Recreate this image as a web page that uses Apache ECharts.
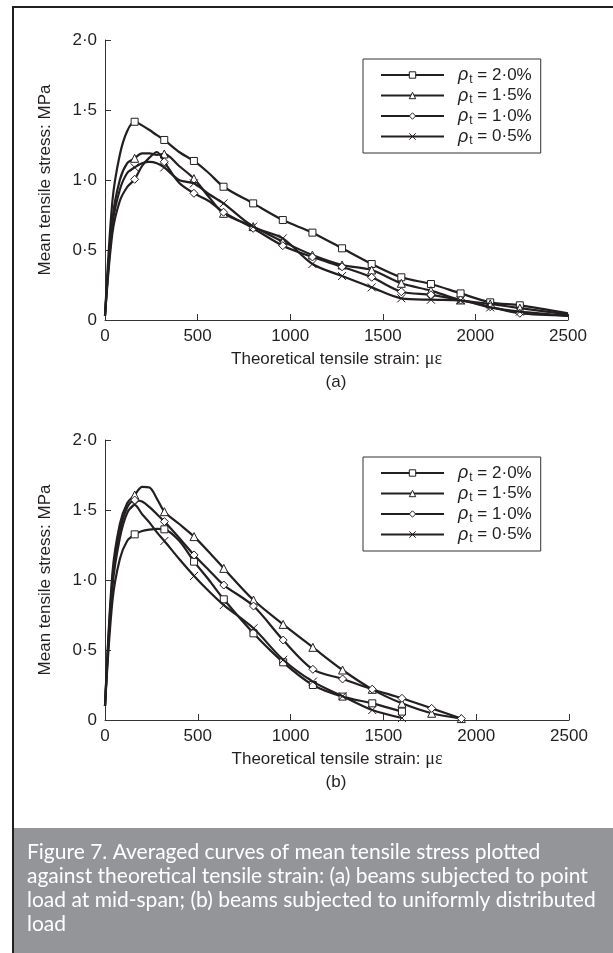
<!DOCTYPE html>
<html>
<head>
<meta charset="utf-8">
<script src="https://cdn.jsdelivr.net/npm/echarts@6/dist/echarts.min.js"></script>
<style>
  html, body { margin: 0; padding: 0; background: #fff; }
  #chart { width: 613px; height: 953px; }
</style>
</head>
<body>
<div id="chart"></div>
<script>
// 图例名称 (配筋率)
const ratioNames = ['2·0%', '1·5%', '1·0%', '0·5%']

// 标记点所在的应变 (每 160 με 一个)
const markerStrain = [160, 320, 480, 640, 800, 960, 1120, 1280, 1440, 1600, 1760, 1920, 2080, 2240]

// (a) 跨中集中荷载
const strainA = [0, 40, 80, 120, 160, 200, 240, 280, 320, 400, 480, 560, 640, 800, 960, 1120, 1280, 1440, 1600, 1760, 1920, 2080, 2240, 2500]
const stressA20 = [0.03, 0.85, 1.18, 1.35, 1.416, 1.39, 1.357, 1.32, 1.286, 1.2, 1.136, 1.05, 0.952, 0.833, 0.714, 0.624, 0.512, 0.4, 0.305, 0.257, 0.19, 0.126, 0.105, 0.048]
const stressA15 = [0.03, 0.72, 1.0, 1.12, 1.155, 1.19, 1.19, 1.18, 1.186, 1.1, 1.01, 0.88, 0.762, 0.667, 0.56, 0.464, 0.393, 0.357, 0.262, 0.21, 0.143, 0.115, 0.085, 0.04]
const stressA10 = [0.03, 0.62, 0.85, 0.95, 1.005, 1.1, 1.16, 1.2, 1.13, 0.98, 0.905, 0.85, 0.77, 0.655, 0.531, 0.45, 0.38, 0.305, 0.202, 0.18, 0.143, 0.095, 0.048, 0.03]
const stressA05 = [0.03, 0.68, 0.93, 1.05, 1.09, 1.12, 1.13, 1.12, 1.09, 1.0, 0.976, 0.9, 0.833, 0.667, 0.583, 0.4, 0.314, 0.233, 0.155, 0.145, 0.14, 0.09, 0.06, 0.03]

// (b) 均布荷载
const strainB = [0, 40, 80, 120, 160, 200, 240, 280, 320, 400, 480, 560, 640, 800, 960, 1120, 1280, 1440, 1600, 1760, 1920]
const stressB20 = [0.1, 0.85, 1.15, 1.28, 1.326, 1.35, 1.36, 1.365, 1.362, 1.28, 1.131, 1.0, 0.862, 0.619, 0.412, 0.25, 0.167, 0.119, 0.06, null, null]
const stressB15 = [0.1, 1.05, 1.4, 1.55, 1.607, 1.665, 1.66, 1.58, 1.488, 1.4, 1.31, 1.2, 1.083, 0.857, 0.683, 0.519, 0.357, 0.219, 0.119, 0.048, 0.01]
const stressB10 = [0.1, 1.0, 1.35, 1.52, 1.571, 1.56, 1.52, 1.47, 1.417, 1.3, 1.179, 1.07, 0.964, 0.814, 0.571, 0.362, 0.293, 0.22, 0.155, 0.083, 0.01]
const stressB05 = [0.1, 0.95, 1.3, 1.48, 1.536, 1.47, 1.41, 1.34, 1.279, 1.15, 1.029, 0.92, 0.821, 0.655, 0.43, 0.274, 0.17, 0.071, 0.014, null, null]

// 坐标轴范围与间隔 [min, max, interval]
const xTicks = [0, 2500, 500]
const yTicks = [0, 2, 0.5]

const caption = [
  'Figure 7. Averaged curves of mean tensile stress plotted',
  'against theoretical tensile strain: (a) beams subjected to point',
  'load at mid-span; (b) beams subjected to uniformly distributed',
  'load'
]

const ink = '#231f20'
const sans = 'Liberation Sans, Arial, sans-serif'
const symbols = ['rect', 'triangle', 'diamond', 'path://M0,0L10,10M10,0L0,10']
const symbolSizes = [7, 8, 8, 8]

const chart = echarts.init(document.getElementById('chart'))

// 把数组拼成折线数据, 非标记点不画符号
const buildData = (strain, stress) => {
  const out = []
  strain.forEach((x, i) => {
    if (stress[i] === null) return
    const item = { value: [x, stress[i]] }
    if (!markerStrain.includes(x)) item.symbol = 'none'
    out.push(item)
  })
  return out
}

const makeSeries = (idx, strain, stress, k) => ({
  name: ratioNames[k],
  type: 'line',
  xAxisIndex: idx,
  yAxisIndex: idx,
  data: buildData(strain, stress),
  smooth: 0.3,
  symbol: symbols[k],
  symbolSize: symbolSizes[k],
  lineStyle: { color: ink, width: 2.2 },
  itemStyle: { color: '#fff', borderColor: ink, borderWidth: 1 },
  z: 3 + k,
  animation: false
})

const fmtY = (v) => (v === 0 ? '0' : v.toFixed(1).replace('.', '·'))

const makeXAxis = (idx) => ({
  type: 'value',
  gridIndex: idx,
  min: xTicks[0],
  max: xTicks[1],
  interval: xTicks[2],
  name: 'Theoretical tensile strain: {mu|με}',
  nameLocation: 'middle',
  nameGap: 30,
  nameTextStyle: {
    color: ink, fontSize: 17, fontFamily: sans,
    rich: { mu: { fontFamily: 'Liberation Serif, serif', fontSize: 18, color: ink } }
  },
  axisLine: { lineStyle: { color: '#333', width: 1 } },
  axisTick: { inside: true, length: 6, lineStyle: { color: '#333' } },
  axisLabel: { color: ink, fontSize: 17, margin: 8, fontFamily: sans, formatter: (v) => String(v) },
  splitLine: { show: false }
})

const makeYAxis = (idx) => ({
  type: 'value',
  gridIndex: idx,
  min: yTicks[0],
  max: yTicks[1],
  interval: yTicks[2],
  name: 'Mean tensile stress: MPa',
  nameLocation: 'middle',
  nameGap: 51,
  nameTextStyle: { color: ink, fontSize: 17, fontFamily: sans },
  axisLine: { show: true, lineStyle: { color: '#333', width: 1 } },
  axisTick: { show: true, inside: true, length: 6, lineStyle: { color: '#333' } },
  axisLabel: { color: ink, fontSize: 17, margin: 8, formatter: fmtY, fontFamily: sans },
  splitLine: { show: false }
})

const makeLegend = (top) => ({
  orient: 'vertical',
  left: 363,
  top: top,
  data: ratioNames,
  itemWidth: 63,
  itemHeight: 8,
  itemGap: 1,
  padding: [7, 9, 6, 17],
  borderColor: '#333',
  borderWidth: 1,
  backgroundColor: '#fff',
  selectedMode: false,
  itemStyle: { borderWidth: 1 },
  formatter: (name) => '{rho|ρ}{sub|t}{eq| = ' + name + '}',
  textStyle: {
    color: ink,
    fontSize: 17,
    fontFamily: sans,
    rich: {
      rho: { fontStyle: 'italic', fontSize: 18, padding: [0, 0, 0, 9], lineHeight: 21, fontFamily: sans },
      sub: { fontSize: 12, padding: [9, 0, 0, 1], fontFamily: sans },
      eq: { fontSize: 17, lineHeight: 21, fontFamily: sans }
    }
  }
})

const option = {
  backgroundColor: '#fff',
  animation: false,
  grid: [
    { left: 105, top: 40, width: 463, height: 280 },
    { left: 105, top: 440, width: 464, height: 280 }
  ],
  xAxis: [makeXAxis(0), makeXAxis(1)],
  yAxis: [makeYAxis(0), makeYAxis(1)],
  legend: [makeLegend(59), makeLegend(457)],
  series: [
    makeSeries(0, strainA, stressA20, 0),
    makeSeries(0, strainA, stressA15, 1),
    makeSeries(0, strainA, stressA10, 2),
    makeSeries(0, strainA, stressA05, 3),
    makeSeries(1, strainB, stressB20, 0),
    makeSeries(1, strainB, stressB15, 1),
    makeSeries(1, strainB, stressB10, 2),
    makeSeries(1, strainB, stressB05, 3)
  ],
  graphic: [
    // 外框
    { type: 'line', shape: { x1: 13, y1: 7, x2: 13, y2: 953 }, style: { stroke: ink, lineWidth: 2 } },
    { type: 'line', shape: { x1: 12, y1: 7, x2: 613, y2: 7 }, style: { stroke: ink, lineWidth: 2 } },
    // 子图编号
    { type: 'text', x: 336, y: 382, style: { text: '(a)', fill: ink, fontSize: 17, fontFamily: sans, textAlign: 'center', textVerticalAlign: 'middle' } },
    { type: 'text', x: 336, y: 782, style: { text: '(b)', fill: ink, fontSize: 17, fontFamily: sans, textAlign: 'center', textVerticalAlign: 'middle' } },
    // 图注
    { type: 'rect', shape: { x: 14, y: 828, width: 599, height: 125 }, style: { fill: '#939598' } },
    { type: 'text', x: 27, y: 840, style: { text: caption.join('\n'), fill: '#fff', fontSize: 21, lineHeight: 24, fontFamily: 'Lato, Open Sans, sans-serif' } }
  ]
}

chart.setOption(option)
</script>
</body>
</html>
